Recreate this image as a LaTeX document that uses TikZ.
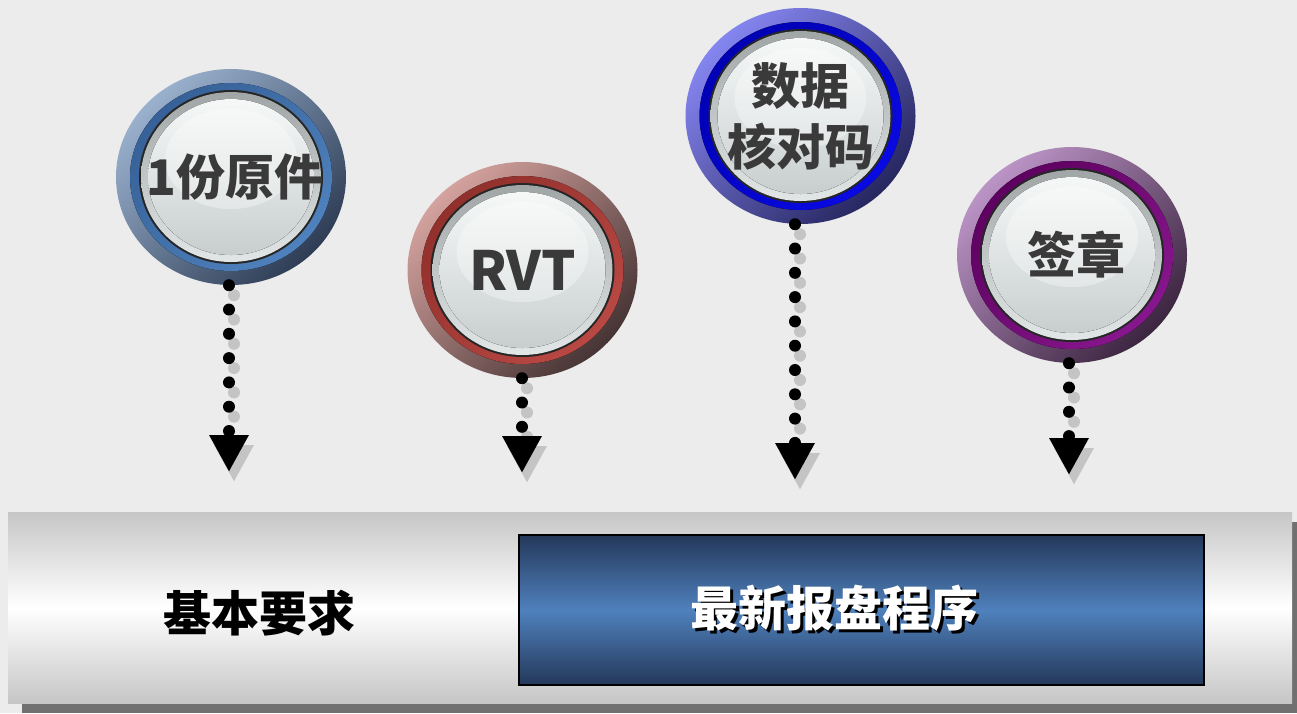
\documentclass[tikz,border=0pt]{standalone}
\usepackage{fontspec}
\newfontfamily\cjk{Noto Sans CJK SC}
\usetikzlibrary{shapes.geometric,arrows.meta}
\definecolor{bg}{HTML}{ECECEC}
\definecolor{bluelight}{HTML}{9AB1CE}
\definecolor{bluedark}{HTML}{2E3D55}
\definecolor{bluemidA}{HTML}{355E95}
\definecolor{bluemidB}{HTML}{5084C0}
\definecolor{redlight}{HTML}{D4A29E}
\definecolor{reddark}{HTML}{463434}
\definecolor{redmidA}{HTML}{8E2E2A}
\definecolor{redmidB}{HTML}{BC4A45}
\definecolor{vlight}{HTML}{8585F0}
\definecolor{vdark}{HTML}{262660}
\definecolor{vmidA}{HTML}{0000B0}
\definecolor{vmidB}{HTML}{0A0AE6}
\definecolor{plight}{HTML}{BB94C6}
\definecolor{pdark}{HTML}{3C2540}
\definecolor{pmidA}{HTML}{5A005C}
\definecolor{pmidB}{HTML}{8A1890}
\definecolor{discA}{HTML}{A0A5A5}
\definecolor{discB}{HTML}{E2E6E6}
\definecolor{faceA}{HTML}{F6F8F8}
\definecolor{faceB}{HTML}{C8CECE}
\definecolor{txtgray}{HTML}{3A3A3A}
\definecolor{shadowgray}{HTML}{C4C4C4}
\definecolor{barshadow}{HTML}{707070}
\definecolor{bargray}{HTML}{C6C6C6}
\definecolor{boxdark}{HTML}{24385A}
\definecolor{boxmid}{HTML}{4F81BD}
\tikzset{
  badge/.style n args={4}{ellipse, minimum width=230pt, minimum height=216pt, inner sep=0pt,
    top color=#1, bottom color=#2, shading angle=45,
    text=txtgray, align=center,
    font=\cjk\bfseries\fontsize{49}{61}\selectfont,
    path picture={
      \fill[top color=#3, bottom color=#4, shading angle=45]
        (path picture bounding box.center) ellipse [x radius=101pt, y radius=94pt];
      \fill[black!85]
        (path picture bounding box.center) ellipse [x radius=92pt, y radius=87pt];
      \fill[top color=discA, bottom color=discB]
        (path picture bounding box.center) ellipse [x radius=90pt, y radius=85pt];
      \fill[top color=faceA, bottom color=faceB]
        (path picture bounding box.center) ellipse [x radius=83pt, y radius=78pt];
      \fill[white, opacity=0.35]
        ([yshift=18pt]path picture bounding box.center) ellipse [x radius=66pt, y radius=50pt];
    }},
  dotline/.style={line width=12pt, line cap=round, dash pattern=on 0pt off 24.3pt,
    -{Triangle[length=37pt,width=37pt]}},
  dotshadow/.style={dotline, draw=shadowgray, color=shadowgray}
}
\newcommand\shadowtext[1]{\rlap{\kern3pt\raisebox{-3pt}{\textcolor{black}{#1}}}#1}
\begin{document}
\begin{tikzpicture}[x=1pt,y=-1pt]
\useasboundingbox (0,0) rectangle (1297,713);
\fill[bg] (0,0) rectangle (1297,713);

% bottom bar
\fill[barshadow] (22,522) rectangle (1300,713);
\node[rectangle, minimum width=1284pt, minimum height=191pt, inner sep=0pt,
  top color=bargray, bottom color=bargray, middle color=white] (bar) at (650,607.5) {};
\node[font=\cjk\bfseries\fontsize{48}{56}\selectfont, text=black] (req) at (259,613) {基本要求};
\node[rectangle, minimum width=685pt, minimum height=150pt, inner sep=0pt, draw=black, line width=1.5pt,
  top color=boxdark, bottom color=boxdark, middle color=boxmid] (box) at (861.5,610) {};
\node[font=\cjk\bfseries\fontsize{48}{56}\selectfont, text=white] (boxtxt) at (834,610) {\shadowtext{最新报盘程序}};

% badges
\node[badge={bluelight}{bluedark}{bluemidA}{bluemidB}] (c1) at (231,177) {\makebox[0pt]{\hspace*{8pt}1份原件}};
\node[badge={redlight}{reddark}{redmidA}{redmidB}, font=\cjk\bfseries\fontsize{54}{61}\selectfont] (c2) at (522.5,270) {RVT};
\node[badge={vlight}{vdark}{vmidA}{vmidB}] (c3) at (800.5,116) {数据\\核对码};
\node[badge={plight}{pdark}{pmidA}{pmidB}] (c4) at (1072,255) {\makebox[0pt]{\hspace*{8pt}签章}};

% arrow ends
\coordinate (a1) at (229,472);
\coordinate (a2) at (522,473);
\coordinate (a3) at (795,480);
\coordinate (a4) at (1069,475);
\coordinate (s1) at (a1 |- c1.south);
\coordinate (s2) at (a2 |- c2.south);
\coordinate (s3) at (a3 |- c3.south);
\coordinate (s4) at (a4 |- c4.south);

\foreach \i in {1,2,3,4}{
  \draw[dotshadow] ([xshift=5pt,yshift=-10pt]s\i) -- ([xshift=5pt,yshift=-10pt]a\i);
}
\foreach \i in {1,2,3,4}{
  \draw[dotline] (s\i) -- (a\i);
}
\end{tikzpicture}
\end{document}
